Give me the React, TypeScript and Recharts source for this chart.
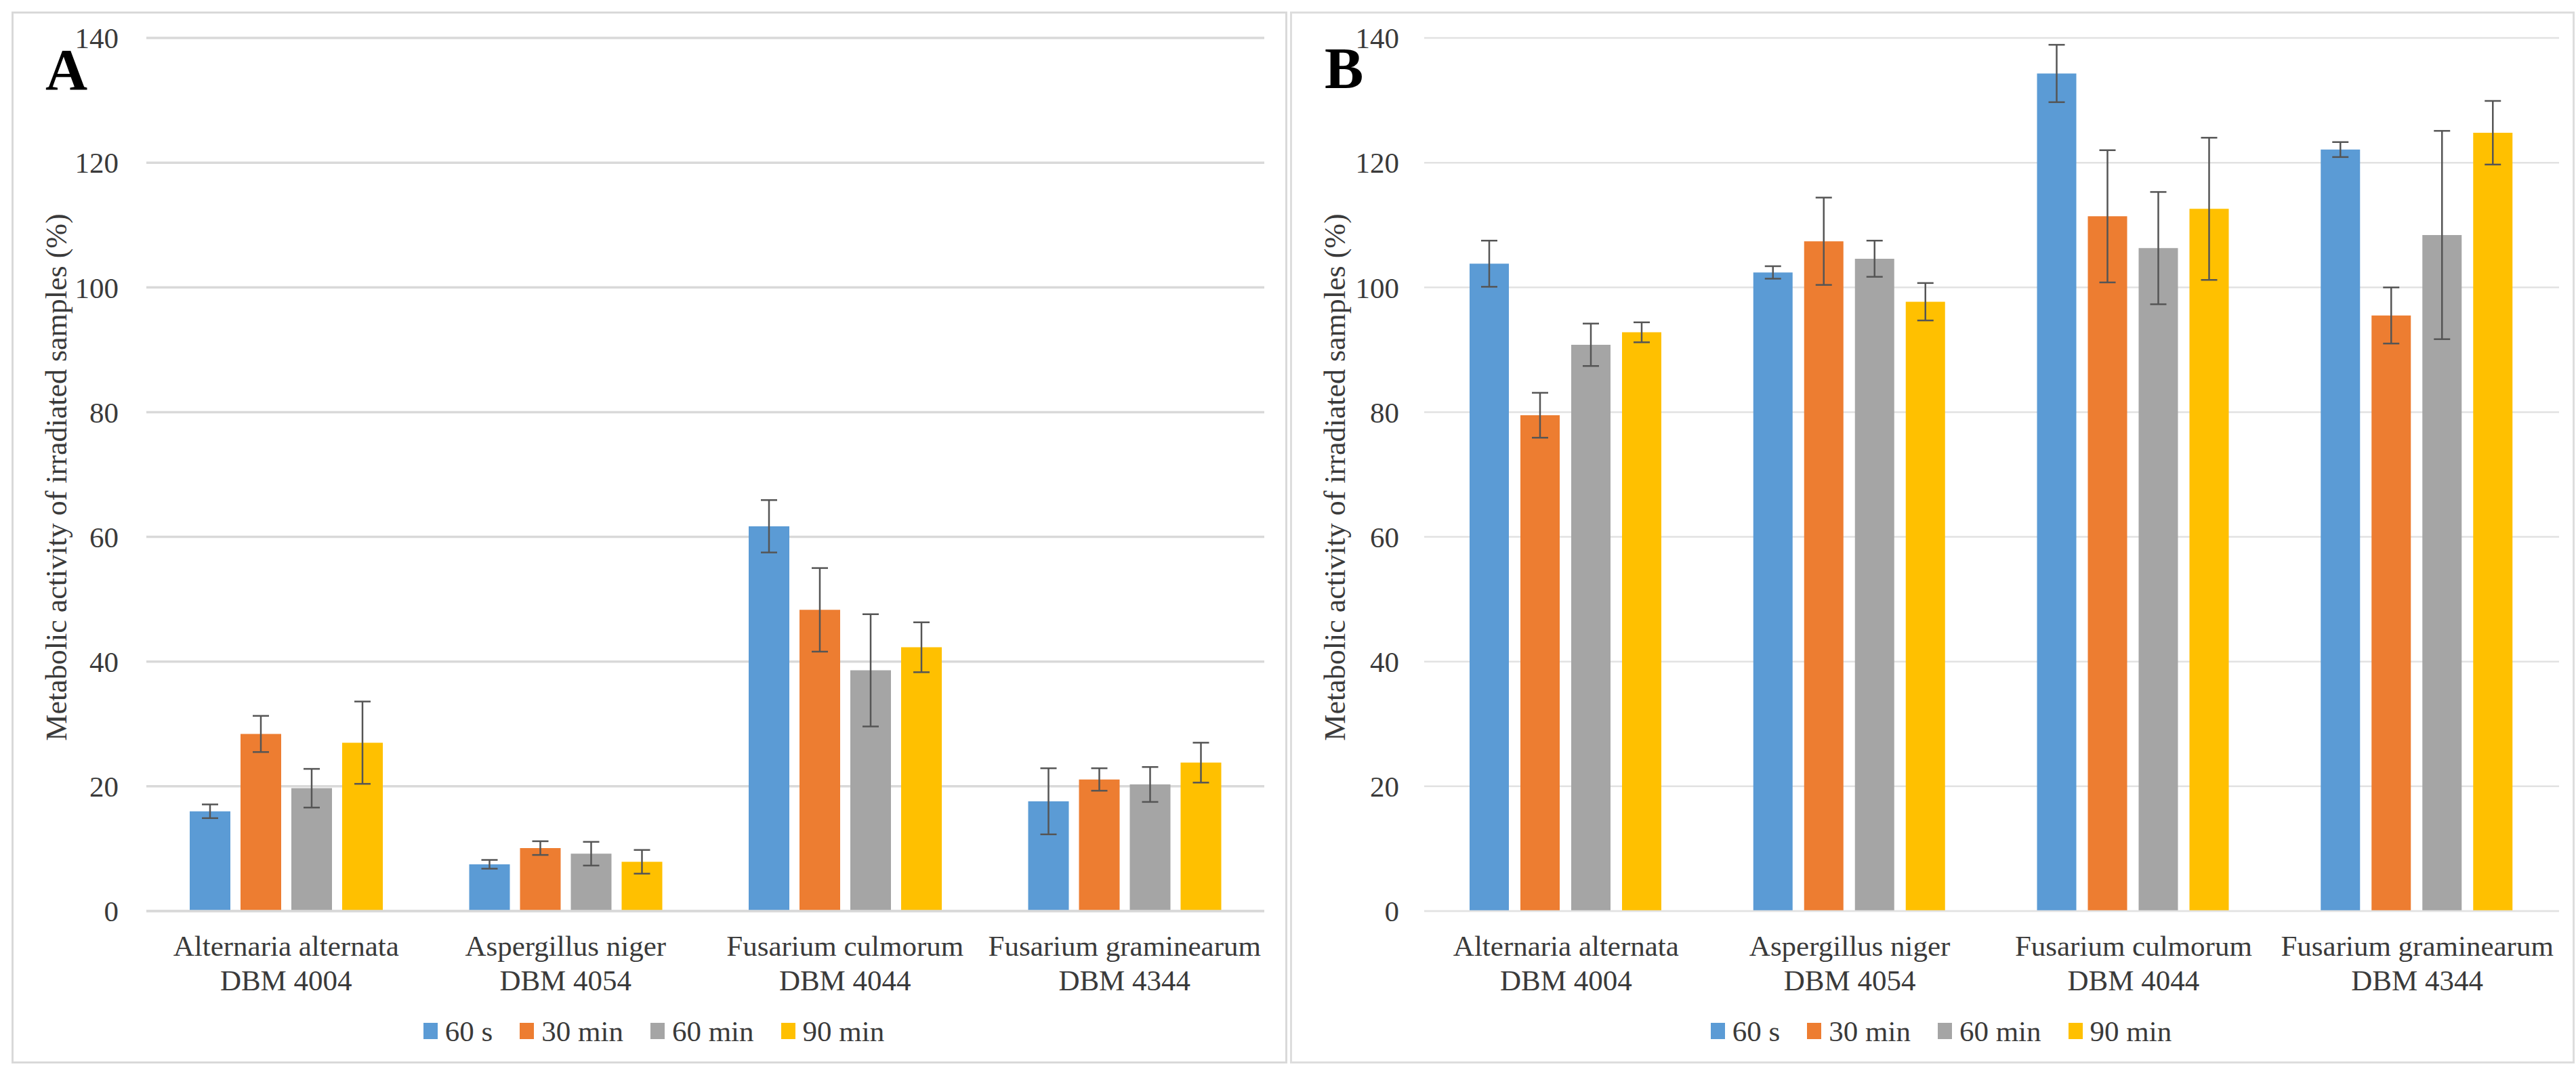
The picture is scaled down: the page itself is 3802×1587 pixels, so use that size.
import { Bar, BarChart, CartesianGrid, ErrorBar, Legend, XAxis, YAxis } from 'recharts'

const species = ['Alternaria alternata', 'Aspergillus niger', 'Fusarium culmorum', 'Fusarium graminearum']
const strains = ['DBM 4004', 'DBM 4054', 'DBM 4044', 'DBM 4344']
const seriesNames = ['60 s', '30 min', '60 min', '90 min']
const seriesColors = ['#5B9BD5', '#ED7D31', '#A5A5A5', '#FFC000']
const yTicks = [0, 20, 40, 60, 80, 100, 120, 140]
const yTitle = 'Metabolic activity of irradiated samples (%)'

// panel A: means and error bar half-widths, one entry per species
const a60s = [16.0, 7.5, 61.7, 17.6]
const a30min = [28.4, 10.1, 48.3, 21.1]
const a60min = [19.7, 9.2, 38.6, 20.3]
const a90min = [27.0, 7.9, 42.3, 23.8]
const a60sErr = [1.1, 0.7, 4.2, 5.3]
const a30minErr = [2.9, 1.1, 6.7, 1.8]
const a60minErr = [3.1, 1.9, 9.0, 2.8]
const a90minErr = [6.6, 1.9, 4.0, 3.2]

// panel B
const b60s = [103.8, 102.4, 134.3, 122.1]
const b30min = [79.5, 107.4, 111.4, 95.5]
const b60min = [90.8, 104.6, 106.3, 108.4]
const b90min = [92.8, 97.7, 112.6, 124.8]
const b60sErr = [3.7, 1.0, 4.6, 1.2]
const b30minErr = [3.6, 7.0, 10.6, 4.5]
const b60minErr = [3.4, 2.9, 9.0, 16.7]
const b90minErr = [1.6, 3.0, 11.4, 5.1]

const SERIF = '"Liberation Serif", "Times New Roman", serif'
const TEXT = '#3a3a3a'
const CHART_H = 1587
const PLOT_TOP = 56
const PLOT_BOTTOM = 1345

interface Row {
  name: string
  strain: string
  [key: string]: string | number
}

function buildRows(values: number[][], errors: number[][]): Row[] {
  return species.map((name, i) => {
    const row: Row = { name, strain: strains[i] }
    values.forEach((v, s) => {
      row[`s${s}`] = v[i]
      row[`e${s}`] = errors[s][i]
    })
    return row
  })
}

const rowsA = buildRows([a60s, a30min, a60min, a90min], [a60sErr, a30minErr, a60minErr, a90minErr])
const rowsB = buildRows([b60s, b30min, b60min, b90min], [b60sErr, b30minErr, b60minErr, b90minErr])

function CategoryTick(props: any) {
  const { x, y, payload } = props
  const i = species.indexOf(payload.value)
  return (
    <text x={x} y={y} textAnchor="middle" fontFamily={SERIF} fontSize={43} fill={TEXT}>
      <tspan x={x} dy={66}>{payload.value}</tspan>
      <tspan x={x} dy={51}>{strains[i]}</tspan>
    </text>
  )
}

function LegendBox() {
  return (
    <div
      style={{
        display: 'flex',
        justifyContent: 'center',
        alignItems: 'center',
        height: 44,
        fontFamily: SERIF,
        fontSize: 43,
        color: TEXT,
        whiteSpace: 'nowrap',
      }}
    >
      {seriesNames.map((n, i) => (
        <span key={n} style={{ display: 'flex', alignItems: 'center', marginLeft: i ? 40 : 0 }}>
          <span style={{ width: 21, height: 24, background: seriesColors[i], marginRight: 11 }} />
          <span>{n}</span>
        </span>
      ))}
    </div>
  )
}

interface PanelProps {
  rows: Row[]
  left: number
  width: number
  yAxisWidth: number
  marginRight: number
  tickMargin: number
  titleX: number
  legendCenter: number
  barGap: number
  barCategoryGap: number
  gridStroke: string
  gridWidth: number
}

function Panel(p: PanelProps) {
  const titleY = (PLOT_TOP + PLOT_BOTTOM) / 2 + 4
  return (
    <div style={{ position: 'absolute', left: p.left, top: 0 }}>
      <BarChart
        width={p.width}
        height={CHART_H}
        data={p.rows}
        margin={{ top: PLOT_TOP, right: p.marginRight, left: 0, bottom: 0 }}
        barGap={p.barGap}
        barCategoryGap={p.barCategoryGap}
      >
        <CartesianGrid vertical={false} stroke={p.gridStroke} strokeWidth={p.gridWidth} />
        <XAxis
          dataKey="name"
          height={CHART_H - PLOT_BOTTOM}
          interval={0}
          tickLine={false}
          tickSize={0}
          tickMargin={0}
          axisLine={{ stroke: p.gridStroke, strokeWidth: p.gridWidth }}
          tick={<CategoryTick />}
        />
        <YAxis
          type="number"
          domain={[0, 140]}
          ticks={yTicks}
          interval={0}
          width={p.yAxisWidth}
          axisLine={false}
          tickLine={false}
          tickSize={0}
          tickMargin={p.tickMargin}
          tick={{ fontSize: 43, fontFamily: SERIF, fill: TEXT }}
          label={() => (
            <text
              x={p.titleX}
              y={titleY}
              transform={`rotate(-90 ${p.titleX} ${titleY})`}
              textAnchor="middle"
              dominantBaseline="central"
              fontFamily={SERIF}
              fontSize={44}
              fill={TEXT}
            >
              {yTitle}
            </text>
          )}
        />
        <Legend
          verticalAlign="middle"
          align="center"
          layout="horizontal"
          content={() => <LegendBox />}
          wrapperStyle={{ top: 1500, left: p.legendCenter - 600, width: 1200 }}
        />
        {seriesNames.map((n, s) => (
          <Bar key={n} dataKey={`s${s}`} name={n} fill={seriesColors[s]} isAnimationActive={false}>
            <ErrorBar
              dataKey={`e${s}`}
              direction="y"
              width={12}
              stroke="#555555"
              strokeWidth={2.5}
              isAnimationActive={false}
            />
          </Bar>
        ))}
      </BarChart>
    </div>
  )
}

// panel letters sit just left of the "140" tick; keep their boxes tight
const letterStyle = {
  position: 'absolute' as const,
  fontFamily: SERIF,
  fontWeight: 'bold' as const,
  fontSize: 86,
  lineHeight: '56px',
  height: 56,
  width: 44,
  overflow: 'visible' as const,
  whiteSpace: 'nowrap' as const,
  color: '#000',
}

export default function App() {
  return (
    <div style={{ position: 'absolute', left: 0, top: 0, width: 3802, height: 1587, background: '#fff' }}>
      <div
        style={{
          position: 'absolute',
          left: 17,
          top: 17,
          width: 1883,
          height: 1553,
          border: '3px solid #D9D9D9',
          boxSizing: 'border-box',
        }}
      />
      <div
        style={{
          position: 'absolute',
          left: 1904,
          top: 17,
          width: 1896,
          height: 1553,
          border: '3px solid #DDDDDD',
          boxSizing: 'border-box',
        }}
      />
      <Panel
        rows={rowsA}
        left={0}
        width={1900}
        yAxisWidth={216}
        marginRight={34}
        tickMargin={41}
        titleX={83}
        legendCenter={965}
        barGap={15}
        barCategoryGap={64}
        gridStroke="#D9D9D9"
        gridWidth={3.5}
      />
      <Panel
        rows={rowsB}
        left={1900}
        width={1902}
        yAxisWidth={202}
        marginRight={25}
        tickMargin={37}
        titleX={70}
        legendCenter={965}
        barGap={17}
        barCategoryGap={67}
        gridStroke="#E2E2E2"
        gridWidth={2.5}
      />
      <div style={{ ...letterStyle, left: 67, top: 75 }}>A</div>
      <div style={{ ...letterStyle, left: 1955, top: 73 }}>B</div>
    </div>
  )
}
